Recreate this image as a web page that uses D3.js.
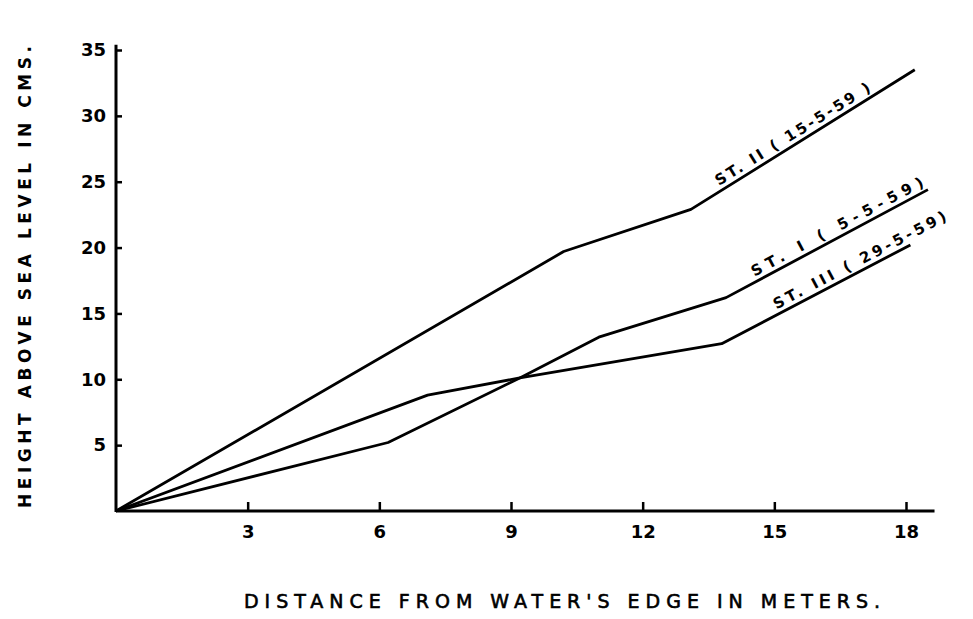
<!DOCTYPE html>
<html>
<head>
<meta charset="utf-8">
<script src="https://cdn.jsdelivr.net/npm/d3@7"></script>
<style>
  body { margin: 0; background: #fff; }
  text { font-family: "DejaVu Sans", sans-serif; fill: #000; }
</style>
</head>
<body>
<div id="chart"></div>
<script>
// values (distance in m, height in cm)
var xTicks = [3, 6, 9, 12, 15, 18];
var yTicks = [5, 10, 15, 20, 25, 30, 35];

var st2Dist = [0, 10.2, 13.1, 18.2];
var st2Height = [0, 19.7, 22.9, 33.5];

var st1Dist = [0, 6.2, 9.2, 11.0, 13.9, 18.5];
var st1Height = [0, 5.2, 10.1, 13.2, 16.2, 24.4];

var st3Dist = [0, 7.1, 9.2, 13.8, 18.1];
var st3Height = [0, 8.8, 10.1, 12.7, 20.2];

var seriesNames = ["ST. II ( 15-5-59 )", "ST. I ( 5-5-59)", "ST. III ( 29-5-59)"];

var series = [
  { name: seriesNames[0], x: st2Dist, y: st2Height, labelAt: 13.8, labelEnd: 17.9 },
  { name: seriesNames[1], x: st1Dist, y: st1Height, labelAt: 14.6, labelEnd: 19.0 },
  { name: seriesNames[2], x: st3Dist, y: st3Height, labelAt: 15.1, labelEnd: 19.5 }
];

var width = 973, height = 619;

var svg = d3.select("#chart")
  .append("svg")
  .attr("width", width)
  .attr("height", height);

var x = d3.scaleLinear().domain([0, 18]).range([116, 906]);
var y = d3.scaleLinear().domain([0, 35]).range([511, 50]);

// axis lines drawn by hand so they can run past the last tick
svg.append("line")
  .attr("x1", x(0)).attr("x2", x(18.65))
  .attr("y1", y(0)).attr("y2", y(0))
  .attr("stroke", "#000").attr("stroke-width", 3);
svg.append("line")
  .attr("x1", x(0)).attr("x2", x(0))
  .attr("y1", y(0) + 1).attr("y2", y(35.4))
  .attr("stroke", "#000").attr("stroke-width", 3);

var xAxis = svg.append("g")
  .attr("transform", "translate(0," + y(0) + ")")
  .call(d3.axisBottom(x).tickValues(xTicks).tickSizeInner(-9).tickSizeOuter(0).tickPadding(24));
var yAxis = svg.append("g")
  .attr("transform", "translate(" + x(0) + ",0)")
  .call(d3.axisLeft(y).tickValues(yTicks).tickSizeInner(-6).tickSizeOuter(0).tickPadding(10));

[xAxis, yAxis].forEach(function (g) {
  g.select(".domain").remove();
  g.selectAll(".tick line").attr("stroke", "#000").attr("stroke-width", 2.5);
  g.selectAll(".tick text")
    .style("font-family", "'DejaVu Sans', sans-serif")
    .style("font-weight", "bold")
    .style("font-size", "18px")
    .attr("fill", "#000");
});
xAxis.selectAll(".tick text").attr("dy", "0.15em");

// the lines
var line = d3.line()
  .x(function (d) { return x(d[0]); })
  .y(function (d) { return y(d[1]); });

series.forEach(function (s) {
  var pts = s.x.map(function (v, i) { return [v, s.y[i]]; });
  svg.append("path")
    .datum(pts)
    .attr("fill", "none")
    .attr("stroke", "#000")
    .attr("stroke-width", 2.8)
    .attr("stroke-linejoin", "round")
    .attr("d", line);

  // label sits on the last segment, rotated to follow it
  var n = pts.length;
  var a = pts[n - 2], b = pts[n - 1];
  var angle = Math.atan2(y(b[1]) - y(a[1]), x(b[0]) - x(a[0])) * 180 / Math.PI;
  var t = (s.labelAt - a[0]) / (b[0] - a[0]);
  var lx = x(s.labelAt), ly = y(a[1] + t * (b[1] - a[1]));
  svg.append("text")
    .attr("transform", "translate(" + lx + "," + ly + ") rotate(" + angle + ") translate(0,-5)")
    .attr("textLength", x(s.labelEnd) - x(s.labelAt))
    .attr("lengthAdjust", "spacing")
    .style("font-weight", "bold")
    .style("font-size", "15px")
    .text(s.name);
});

// axis titles
svg.append("text")
  .attr("transform", "translate(31,277) rotate(-90)")
  .attr("text-anchor", "middle")
  .attr("textLength", 462)
  .attr("lengthAdjust", "spacing")
  .style("font-weight", "bold")
  .style("font-size", "17px")
  .text("HEIGHT ABOVE SEA LEVEL IN CMS.");

svg.append("text")
  .attr("x", 562)
  .attr("y", 608)
  .attr("text-anchor", "middle")
  .attr("textLength", 636)
  .attr("lengthAdjust", "spacing")
  .style("font-size", "19px")
  .style("stroke", "#000")
  .style("stroke-width", 0.6)
  .text("DISTANCE FROM WATER'S EDGE IN METERS.");
</script>
</body>
</html>
